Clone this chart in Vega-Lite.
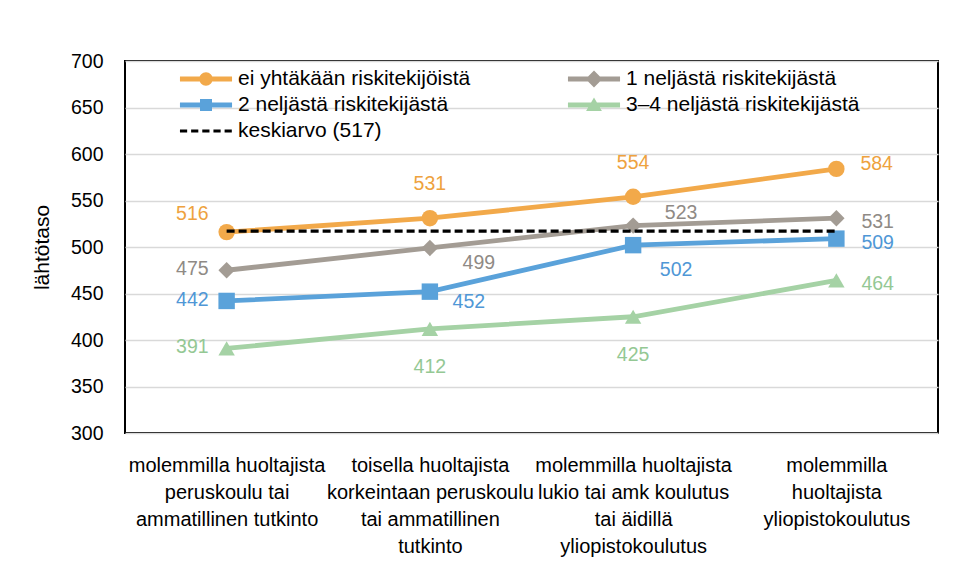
{
  "$schema": "https://vega.github.io/schema/vega-lite/v6.json",
  "width": 813,
  "height": 372,
  "autosize": "none",
  "padding": {"left": 125, "top": 61, "right": 16, "bottom": 147},
  "background": "white",
  "config": {
    "view": {"stroke": "#000000", "strokeWidth": 2},
    "font": "Liberation Sans",
    "axis": {"labelFont": "Liberation Sans", "titleFont": "Liberation Sans", "labelColor": "#000000", "titleColor": "#000000"},
    "text": {"font": "Liberation Sans"}
  },
  "data": {
    "values": [
      {"sarja": "ei yhtäkään riskitekijöistä", "sarjanro": 0, "ryhma": 1, "koulutus": "molemmilla huoltajista|peruskoulu tai|ammatillinen tutkinto", "arvo": 516},
      {"sarja": "ei yhtäkään riskitekijöistä", "sarjanro": 0, "ryhma": 2, "koulutus": "toisella huoltajista|korkeintaan peruskoulu|tai ammatillinen|tutkinto", "arvo": 531},
      {"sarja": "ei yhtäkään riskitekijöistä", "sarjanro": 0, "ryhma": 3, "koulutus": "molemmilla huoltajista|lukio tai amk koulutus|tai äidillä|yliopistokoulutus", "arvo": 554},
      {"sarja": "ei yhtäkään riskitekijöistä", "sarjanro": 0, "ryhma": 4, "koulutus": "molemmilla|huoltajista|yliopistokoulutus", "arvo": 584},
      {"sarja": "1 neljästä riskitekijästä", "sarjanro": 1, "ryhma": 1, "koulutus": "molemmilla huoltajista|peruskoulu tai|ammatillinen tutkinto", "arvo": 475},
      {"sarja": "1 neljästä riskitekijästä", "sarjanro": 1, "ryhma": 2, "koulutus": "toisella huoltajista|korkeintaan peruskoulu|tai ammatillinen|tutkinto", "arvo": 499},
      {"sarja": "1 neljästä riskitekijästä", "sarjanro": 1, "ryhma": 3, "koulutus": "molemmilla huoltajista|lukio tai amk koulutus|tai äidillä|yliopistokoulutus", "arvo": 523},
      {"sarja": "1 neljästä riskitekijästä", "sarjanro": 1, "ryhma": 4, "koulutus": "molemmilla|huoltajista|yliopistokoulutus", "arvo": 531},
      {"sarja": "2 neljästä riskitekijästä", "sarjanro": 2, "ryhma": 1, "koulutus": "molemmilla huoltajista|peruskoulu tai|ammatillinen tutkinto", "arvo": 442},
      {"sarja": "2 neljästä riskitekijästä", "sarjanro": 2, "ryhma": 2, "koulutus": "toisella huoltajista|korkeintaan peruskoulu|tai ammatillinen|tutkinto", "arvo": 452},
      {"sarja": "2 neljästä riskitekijästä", "sarjanro": 2, "ryhma": 3, "koulutus": "molemmilla huoltajista|lukio tai amk koulutus|tai äidillä|yliopistokoulutus", "arvo": 502},
      {"sarja": "2 neljästä riskitekijästä", "sarjanro": 2, "ryhma": 4, "koulutus": "molemmilla|huoltajista|yliopistokoulutus", "arvo": 509},
      {"sarja": "3–4 neljästä riskitekijästä", "sarjanro": 3, "ryhma": 1, "koulutus": "molemmilla huoltajista|peruskoulu tai|ammatillinen tutkinto", "arvo": 391},
      {"sarja": "3–4 neljästä riskitekijästä", "sarjanro": 3, "ryhma": 2, "koulutus": "toisella huoltajista|korkeintaan peruskoulu|tai ammatillinen|tutkinto", "arvo": 412},
      {"sarja": "3–4 neljästä riskitekijästä", "sarjanro": 3, "ryhma": 3, "koulutus": "molemmilla huoltajista|lukio tai amk koulutus|tai äidillä|yliopistokoulutus", "arvo": 425},
      {"sarja": "3–4 neljästä riskitekijästä", "sarjanro": 3, "ryhma": 4, "koulutus": "molemmilla|huoltajista|yliopistokoulutus", "arvo": 464},
      {"sarja": "keskiarvo (517)", "sarjanro": 4, "ryhma": 1, "koulutus": "molemmilla huoltajista|peruskoulu tai|ammatillinen tutkinto", "arvo": 517},
      {"sarja": "keskiarvo (517)", "sarjanro": 4, "ryhma": 2, "koulutus": "toisella huoltajista|korkeintaan peruskoulu|tai ammatillinen|tutkinto", "arvo": 517},
      {"sarja": "keskiarvo (517)", "sarjanro": 4, "ryhma": 3, "koulutus": "molemmilla huoltajista|lukio tai amk koulutus|tai äidillä|yliopistokoulutus", "arvo": 517},
      {"sarja": "keskiarvo (517)", "sarjanro": 4, "ryhma": 4, "koulutus": "molemmilla|huoltajista|yliopistokoulutus", "arvo": 517}
    ]
  },
  "encoding": {
    "x": {
      "field": "koulutus", "type": "nominal",
      "sort": {"field": "ryhma", "op": "min"},
      "scale": {"type": "point", "padding": 0.5},
      "axis": {"title": null, "labelAngle": 0, "ticks": false, "domain": false, "grid": false,
        "labelExpr": "split(datum.label, '|')", "labelFontSize": 20, "labelLineHeight": 27,
        "labelPadding": 22, "labelLimit": 400, "labelOverlap": false, "labelBound": false}
    },
    "y": {
      "field": "arvo", "type": "quantitative",
      "scale": {"domain": [300, 700], "nice": false, "zero": false},
      "axis": {"values": [300, 350, 400, 450, 500, 550, 600, 650, 700], "title": "lähtötaso",
        "ticks": false, "domain": false, "labelPadding": 22, "labelFontSize": 19.5,
        "gridColor": "#D9D9D9", "gridWidth": 1.5,
        "titleFontSize": 21, "titleFontWeight": "normal", "titleX": -83, "titleY": 186,
        "titleAlign": "center", "titleBaseline": "middle", "titleAngle": 270}
    }
  },
  "layer": [
    {
      "transform": [{"filter": "datum.sarjanro < 4"}],
      "mark": {"type": "line", "strokeWidth": 4.8},
      "encoding": {
        "color": {"field": "sarja", "type": "nominal", "legend": null,
          "scale": {"domain": ["ei yhtäkään riskitekijöistä", "1 neljästä riskitekijästä", "2 neljästä riskitekijästä", "3–4 neljästä riskitekijästä", "keskiarvo (517)"],
            "range": ["#F2A94A", "#A39C94", "#5AA2DA", "#A5D2A5", "#000000"]}}
      }
    },
    {
      "transform": [{"filter": "datum.sarjanro < 4"}],
      "mark": {"type": "point", "filled": true, "opacity": 1, "size": 270, "strokeWidth": 0},
      "encoding": {
        "color": {"field": "sarja", "type": "nominal", "legend": null,
          "scale": {"domain": ["ei yhtäkään riskitekijöistä", "1 neljästä riskitekijästä", "2 neljästä riskitekijästä", "3–4 neljästä riskitekijästä", "keskiarvo (517)"],
            "range": ["#F2A94A", "#A39C94", "#5AA2DA", "#A5D2A5", "#000000"]}},
        "shape": {"field": "sarja", "type": "nominal", "legend": null,
          "scale": {"domain": ["ei yhtäkään riskitekijöistä", "1 neljästä riskitekijästä", "2 neljästä riskitekijästä", "3–4 neljästä riskitekijästä"],
            "range": ["circle", "diamond", "square", "triangle-up"]}}
      }
    },
    {
      "transform": [{"filter": "datum.sarjanro == 4"}],
      "mark": {"type": "line", "color": "#000000", "strokeWidth": 3.2, "strokeDash": [8, 4]},
      "encoding": {}
    },
    {
      "transform": [{"filter": "false"}],
      "mark": {"type": "point", "filled": true, "opacity": 1},
      "encoding": {
        "x": null,
        "y": null,
        "color": {"field": "sarja", "type": "nominal",
          "scale": {"domain": ["ei yhtäkään riskitekijöistä", "2 neljästä riskitekijästä", "keskiarvo (517)", "1 neljästä riskitekijästä", "3–4 neljästä riskitekijästä"],
            "range": ["#F2A94A", "#5AA2DA", "#000000", "#A39C94", "#A5D2A5"]},
          "legend": {"title": null, "orient": "none", "legendX": 69, "legendY": 6, "columns": 2,
            "columnPadding": 96, "rowPadding": 4, "symbolSize": 576, "labelFontSize": 21,
            "labelOffset": 20, "labelFont": "Liberation Sans", "labelColor": "#000000", "padding": 0,
            "symbolStrokeWidth": 0, "labelLimit": 400, "symbolOpacity": 1}},
        "shape": {"field": "sarja", "type": "nominal",
          "scale": {"domain": ["ei yhtäkään riskitekijöistä", "2 neljästä riskitekijästä", "keskiarvo (517)", "1 neljästä riskitekijästä", "3–4 neljästä riskitekijästä"],
            "range": [
              "M-2.17,-0.2H2.17V0.2H-2.17Z M-0.56,0A0.56,0.56 0 1,1 0.56,0A0.56,0.56 0 1,1 -0.56,0Z",
              "M-2.17,-0.2H2.17V0.2H-2.17Z M-0.5,-0.5H0.5V0.5H-0.5Z",
              "M-2.17,-0.13H-1.57V0.13H-2.17Z M-1.24,-0.13H-0.64V0.13H-1.24Z M-0.31,-0.13H0.29V0.13H-0.31Z M0.62,-0.13H1.22V0.13H0.62Z M1.55,-0.13H2.15V0.13H1.55Z",
              "M-2.17,-0.2H2.17V0.2H-2.17Z M0,-0.7L0.7,0L0,0.7L-0.7,0Z",
              "M-2.17,-0.2H2.17V0.2H-2.17Z M0,-0.62L0.66,0.5H-0.66Z"
            ]},
          "legend": {"title": null, "orient": "none", "legendX": 69, "legendY": 6, "columns": 2,
            "columnPadding": 96, "rowPadding": 4, "symbolSize": 576, "labelFontSize": 21,
            "labelOffset": 20, "labelFont": "Liberation Sans", "labelColor": "#000000", "padding": 0,
            "symbolStrokeWidth": 0, "labelLimit": 400, "symbolOpacity": 1}}
      }
    },
    {
      "transform": [{"filter": "datum.ryhma == 1 && datum.sarjanro == 0"}],
      "mark": {"type": "text", "fontSize": 19.5, "align": "right", "baseline": "middle", "dx": -18, "dy": -18},
      "encoding": {"text": {"field": "arvo", "type": "quantitative"},
        "color": {"field": "sarja", "type": "nominal", "legend": null,
          "scale": {"domain": ["ei yhtäkään riskitekijöistä", "1 neljästä riskitekijästä", "2 neljästä riskitekijästä", "3–4 neljästä riskitekijästä", "keskiarvo (517)"],
            "range": ["#EEA23E", "#8F8A85", "#4F97D6", "#94C894", "#000000"]}}}
    },
    {
      "transform": [{"filter": "datum.ryhma == 1 && datum.sarjanro > 0 && datum.sarjanro < 4"}],
      "mark": {"type": "text", "fontSize": 19.5, "align": "right", "baseline": "middle", "dx": -18, "dy": -1},
      "encoding": {"text": {"field": "arvo", "type": "quantitative"},
        "color": {"field": "sarja", "type": "nominal", "legend": null,
          "scale": {"domain": ["ei yhtäkään riskitekijöistä", "1 neljästä riskitekijästä", "2 neljästä riskitekijästä", "3–4 neljästä riskitekijästä", "keskiarvo (517)"],
            "range": ["#EEA23E", "#8F8A85", "#4F97D6", "#94C894", "#000000"]}}}
    },
    {
      "transform": [{"filter": "(datum.ryhma == 2 || datum.ryhma == 3) && datum.sarjanro == 0"}],
      "mark": {"type": "text", "fontSize": 19.5, "align": "center", "baseline": "middle", "dy": -34},
      "encoding": {"text": {"field": "arvo", "type": "quantitative"},
        "color": {"field": "sarja", "type": "nominal", "legend": null,
          "scale": {"domain": ["ei yhtäkään riskitekijöistä", "1 neljästä riskitekijästä", "2 neljästä riskitekijästä", "3–4 neljästä riskitekijästä", "keskiarvo (517)"],
            "range": ["#EEA23E", "#8F8A85", "#4F97D6", "#94C894", "#000000"]}}}
    },
    {
      "transform": [{"filter": "datum.ryhma == 4 && datum.sarjanro == 0"}],
      "mark": {"type": "text", "fontSize": 19.5, "align": "left", "baseline": "middle", "dx": 24, "dy": -5},
      "encoding": {"text": {"field": "arvo", "type": "quantitative"},
        "color": {"field": "sarja", "type": "nominal", "legend": null,
          "scale": {"domain": ["ei yhtäkään riskitekijöistä", "1 neljästä riskitekijästä", "2 neljästä riskitekijästä", "3–4 neljästä riskitekijästä", "keskiarvo (517)"],
            "range": ["#EEA23E", "#8F8A85", "#4F97D6", "#94C894", "#000000"]}}}
    },
    {
      "transform": [{"filter": "datum.ryhma == 4 && datum.sarjanro > 0 && datum.sarjanro < 4"}],
      "mark": {"type": "text", "fontSize": 19.5, "align": "left", "baseline": "middle", "dx": 25, "dy": 4},
      "encoding": {"text": {"field": "arvo", "type": "quantitative"},
        "color": {"field": "sarja", "type": "nominal", "legend": null,
          "scale": {"domain": ["ei yhtäkään riskitekijöistä", "1 neljästä riskitekijästä", "2 neljästä riskitekijästä", "3–4 neljästä riskitekijästä", "keskiarvo (517)"],
            "range": ["#EEA23E", "#8F8A85", "#4F97D6", "#94C894", "#000000"]}}}
    },
    {
      "transform": [{"filter": "datum.ryhma == 2 && datum.sarjanro == 1"}],
      "mark": {"type": "text", "fontSize": 19.5, "align": "center", "baseline": "middle", "dx": 49, "dy": 15},
      "encoding": {"text": {"field": "arvo", "type": "quantitative"},
        "color": {"field": "sarja", "type": "nominal", "legend": null,
          "scale": {"domain": ["ei yhtäkään riskitekijöistä", "1 neljästä riskitekijästä", "2 neljästä riskitekijästä", "3–4 neljästä riskitekijästä", "keskiarvo (517)"],
            "range": ["#EEA23E", "#8F8A85", "#4F97D6", "#94C894", "#000000"]}}}
    },
    {
      "transform": [{"filter": "datum.ryhma == 3 && datum.sarjanro == 1"}],
      "mark": {"type": "text", "fontSize": 19.5, "align": "center", "baseline": "middle", "dx": 48, "dy": -13},
      "encoding": {"text": {"field": "arvo", "type": "quantitative"},
        "color": {"field": "sarja", "type": "nominal", "legend": null,
          "scale": {"domain": ["ei yhtäkään riskitekijöistä", "1 neljästä riskitekijästä", "2 neljästä riskitekijästä", "3–4 neljästä riskitekijästä", "keskiarvo (517)"],
            "range": ["#EEA23E", "#8F8A85", "#4F97D6", "#94C894", "#000000"]}}}
    },
    {
      "transform": [{"filter": "datum.ryhma == 2 && datum.sarjanro == 2"}],
      "mark": {"type": "text", "fontSize": 19.5, "align": "center", "baseline": "middle", "dx": 39, "dy": 10},
      "encoding": {"text": {"field": "arvo", "type": "quantitative"},
        "color": {"field": "sarja", "type": "nominal", "legend": null,
          "scale": {"domain": ["ei yhtäkään riskitekijöistä", "1 neljästä riskitekijästä", "2 neljästä riskitekijästä", "3–4 neljästä riskitekijästä", "keskiarvo (517)"],
            "range": ["#EEA23E", "#8F8A85", "#4F97D6", "#94C894", "#000000"]}}}
    },
    {
      "transform": [{"filter": "datum.ryhma == 3 && datum.sarjanro == 2"}],
      "mark": {"type": "text", "fontSize": 19.5, "align": "center", "baseline": "middle", "dx": 43, "dy": 25},
      "encoding": {"text": {"field": "arvo", "type": "quantitative"},
        "color": {"field": "sarja", "type": "nominal", "legend": null,
          "scale": {"domain": ["ei yhtäkään riskitekijöistä", "1 neljästä riskitekijästä", "2 neljästä riskitekijästä", "3–4 neljästä riskitekijästä", "keskiarvo (517)"],
            "range": ["#EEA23E", "#8F8A85", "#4F97D6", "#94C894", "#000000"]}}}
    },
    {
      "transform": [{"filter": "(datum.ryhma == 2 || datum.ryhma == 3) && datum.sarjanro == 3"}],
      "mark": {"type": "text", "fontSize": 19.5, "align": "center", "baseline": "middle", "dy": 38},
      "encoding": {"text": {"field": "arvo", "type": "quantitative"},
        "color": {"field": "sarja", "type": "nominal", "legend": null,
          "scale": {"domain": ["ei yhtäkään riskitekijöistä", "1 neljästä riskitekijästä", "2 neljästä riskitekijästä", "3–4 neljästä riskitekijästä", "keskiarvo (517)"],
            "range": ["#EEA23E", "#8F8A85", "#4F97D6", "#94C894", "#000000"]}}}
    }
  ],
  "resolve": {"scale": {"color": "independent", "shape": "independent"}}
}
